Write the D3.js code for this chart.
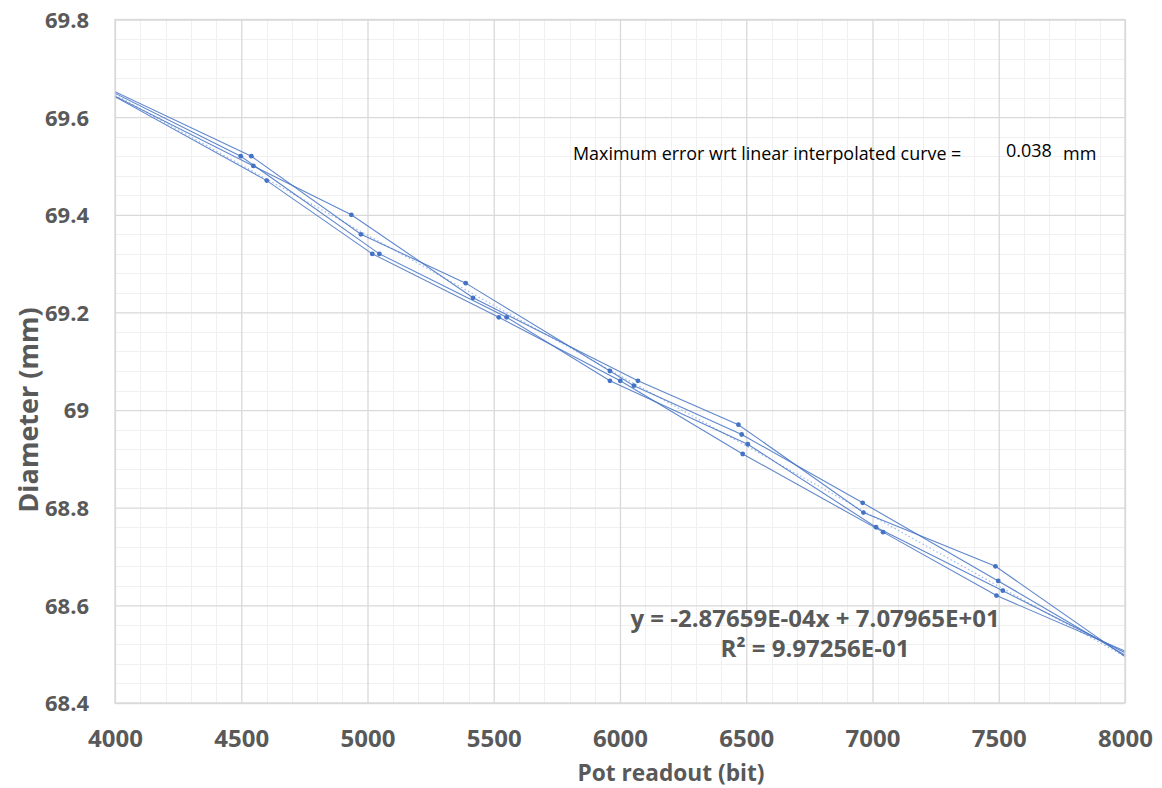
<!DOCTYPE html>
<html>
<head>
<meta charset="utf-8">
<script src="https://cdn.jsdelivr.net/npm/d3@7"></script>
<style>
  html, body { margin: 0; padding: 0; background: #ffffff; }
  svg { display: block; }
</style>
</head>
<body>
<svg id="chart" width="1162" height="788"></svg>
<script>
// ---------------- DATA ----------------
const xTicks = [4000, 4500, 5000, 5500, 6000, 6500, 7000, 7500, 8000];
const yTicks = [68.4, 68.6, 68.8, 69.0, 69.2, 69.4, 69.6, 69.8];
const yTickLabels = ["68.4", "68.6", "68.8", "69", "69.2", "69.4", "69.6", "69.8"];

const series1X = [4000, 4498, 5047, 5551, 5960, 6506, 7014, 7516, 8000];
const series1Y = [69.649, 69.52, 69.32, 69.19, 69.06, 68.93, 68.76, 68.63, 68.503];
const series2X = [4000, 4540, 4974, 5389, 5960, 6055, 6482, 6961, 7498, 8000];
const series2Y = [69.652, 69.52, 69.36, 69.26, 69.08, 69.05, 68.95, 68.81, 68.65, 68.498];
const series3X = [4000, 4548, 4936, 5418, 6071, 6469, 6964, 7487, 8000];
const series3Y = [69.643, 69.50, 69.40, 69.23, 69.06, 68.97, 68.79, 68.68, 68.495];
const series4X = [4000, 4601, 5019, 5520, 6001, 6486, 7042, 7491, 8000];
const series4Y = [69.642, 69.47, 69.32, 69.19, 69.06, 68.91, 68.75, 68.62, 68.5065];

const trendSlope = -2.87659E-04;
const trendIntercept = 7.07965E+01;
const trendRange = [4000, 8000];

const equationText = "y = -2.87659E-04x + 7.07965E+01";
const r2Text = "R² = 9.97256E-01";
const noteText = "Maximum error wrt linear interpolated curve =";
const noteValue = "0.038";
const noteUnit = "mm";
const xTitle = "Pot readout (bit)";
const yTitle = "Diameter (mm)";

// ---------------- LAYOUT ----------------
const plot = { left: 115, right: 1125, top: 19.5, bottom: 703 };
const svg = d3.select("#chart");
const FONT = "'Open Sans', 'Liberation Sans', sans-serif";
const TXT = "#595959";
const LINE = "#4472C4";

const x = d3.scaleLinear().domain([4000, 8000]).range([plot.left, plot.right]);
const y = d3.scaleLinear().domain([68.4, 69.8]).range([plot.bottom, plot.top]);

svg.append("defs").append("clipPath").attr("id", "clip")
  .append("rect")
  .attr("x", plot.left).attr("y", plot.top)
  .attr("width", plot.right - plot.left).attr("height", plot.bottom - plot.top);

// minor grid
const xMinor = d3.range(4000, 8001, 100).filter(v => v % 500 !== 0);
const yMinor = d3.range(0, 36).map(i => +(68.4 + i * 0.04).toFixed(2)).filter(v => Math.abs((v * 10) % 2) > 0.05 && Math.abs((v * 10) % 2 - 2) > 0.05);

const grid = svg.append("g");
grid.selectAll(".xminor").data(xMinor).join("line")
  .attr("x1", d => Math.round(x(d)) + 0.5).attr("x2", d => Math.round(x(d)) + 0.5)
  .attr("y1", plot.top).attr("y2", plot.bottom)
  .attr("stroke", "#f0f0f0").attr("stroke-width", 1);
grid.selectAll(".yminor").data(yMinor).join("line")
  .attr("y1", d => Math.round(y(d)) + 0.5).attr("y2", d => Math.round(y(d)) + 0.5)
  .attr("x1", plot.left).attr("x2", plot.right)
  .attr("stroke", "#f0f0f0").attr("stroke-width", 1);

// major grid via axes
const xAxisGrid = d3.axisBottom(x).tickValues(xTicks).tickSize(-(plot.bottom - plot.top)).tickFormat("");
const yAxisGrid = d3.axisLeft(y).tickValues(yTicks).tickSize(-(plot.right - plot.left)).tickFormat("");
const gx = svg.append("g").attr("transform", `translate(0,${plot.bottom})`).call(xAxisGrid);
gx.select(".domain").remove();
gx.selectAll("line").attr("stroke", "#d9d9d9").attr("stroke-width", 1.3);
const gy = svg.append("g").attr("transform", `translate(${plot.left},0)`).call(yAxisGrid);
gy.select(".domain").remove();
gy.selectAll("line").attr("stroke", "#d9d9d9").attr("stroke-width", 1.3);

// tick labels
const xAxis = d3.axisBottom(x).tickValues(xTicks).tickSize(0).tickPadding(0).tickFormat(d3.format("d"));
const gxl = svg.append("g").attr("transform", `translate(0,${plot.bottom})`).call(xAxis);
gxl.select(".domain").remove();
gxl.selectAll("text").attr("dy", null).attr("y", 44)
  .style("font-family", FONT).style("font-weight", "700").style("font-size", "24px").attr("fill", TXT);

const yAxis = d3.axisLeft(y).tickValues(yTicks).tickSize(0).tickPadding(26)
  .tickFormat((d, i) => yTickLabels[i]);
const gyl = svg.append("g").attr("transform", `translate(${plot.left},0)`).call(yAxis);
gyl.select(".domain").remove();
gyl.selectAll("text").attr("dy", "0.36em")
  .style("font-family", FONT).style("font-weight", "700").style("font-size", "22px").attr("fill", TXT);

// axis titles
svg.append("text").attr("x", 671).attr("y", 781).attr("text-anchor", "middle")
  .style("font-family", FONT).style("font-weight", "700").style("font-size", "22.7px").attr("fill", TXT)
  .text(xTitle);
svg.append("text").attr("transform", `translate(38,410) rotate(-90)`).attr("text-anchor", "middle")
  .style("font-family", FONT).style("font-weight", "700").style("font-size", "27px").attr("fill", TXT)
  .text(yTitle);

// trendline
const trendData = trendRange.map(v => [v, trendSlope * v + trendIntercept]);
const plotG = svg.append("g").attr("clip-path", "url(#clip)");
plotG.append("path").datum(trendData)
  .attr("d", d3.line().x(d => x(d[0])).y(d => y(d[1])))
  .attr("fill", "none").attr("stroke", "#9fbbe8").attr("stroke-width", 1.2)
  .attr("stroke-dasharray", "1.5,2.5");

// series
const allSeries = [
  [series1X, series1Y], [series2X, series2Y], [series3X, series3Y], [series4X, series4Y]
].map(([xs, ys]) => xs.map((v, i) => [v, ys[i]]));

const line = d3.line().x(d => x(d[0])).y(d => y(d[1]));
plotG.selectAll(".series").data(allSeries).join("path")
  .attr("d", line).attr("fill", "none")
  .attr("stroke", LINE).attr("stroke-width", 1.1).attr("stroke-opacity", 0.85);

const pts = allSeries.flat().filter(d => d[0] > 4000 && d[0] < 8000);
plotG.selectAll(".pt").data(pts).join("circle")
  .attr("cx", d => x(d[0])).attr("cy", d => y(d[1])).attr("r", 2.4)
  .attr("fill", LINE);

// plot border
svg.append("rect").attr("x", plot.left).attr("y", plot.top)
  .attr("width", plot.right - plot.left).attr("height", plot.bottom - plot.top)
  .attr("fill", "none").attr("stroke", "#d9d9d9").attr("stroke-width", 1.3);

// annotations
svg.append("text").attr("x", 573).attr("y", 160)
  .style("font-family", FONT).style("font-size", "17.9px").attr("fill", "#000")
  .text(noteText);
svg.append("text").attr("x", 1006).attr("y", 157)
  .style("font-family", FONT).style("font-size", "18px").attr("fill", "#000")
  .text(noteValue);
svg.append("text").attr("x", 1063).attr("y", 160)
  .style("font-family", FONT).style("font-size", "18px").attr("fill", "#000")
  .text(noteUnit);

svg.append("text").attr("x", 815).attr("y", 627).attr("text-anchor", "middle")
  .style("font-family", FONT).style("font-weight", "700").style("font-size", "24px").attr("fill", TXT)
  .text(equationText);
svg.append("text").attr("x", 815).attr("y", 657).attr("text-anchor", "middle")
  .style("font-family", FONT).style("font-weight", "700").style("font-size", "24px").attr("fill", TXT)
  .text(r2Text);
</script>
</body>
</html>
